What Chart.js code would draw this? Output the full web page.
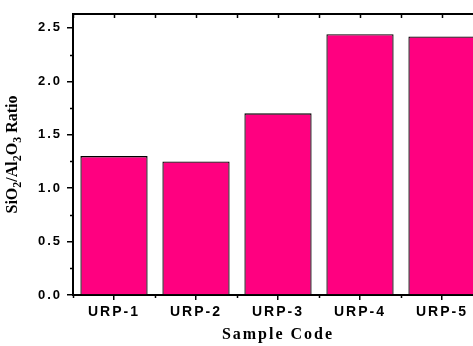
<!DOCTYPE html>
<html>
<head>
<meta charset="utf-8">
<script src="https://cdn.jsdelivr.net/npm/chart.js@4"></script>
<style>
  html, body { margin: 0; padding: 0; overflow: hidden; background: #fff; }
  canvas { display: block; }
</style>
</head>
<body>
<canvas id="bar-chart" width="484" height="346"></canvas>
<script>
const categories = ['URP-1', 'URP-2', 'URP-3', 'URP-4', 'URP-5'];
const ratios = [1.30, 1.25, 1.70, 2.44, 2.42];
const yMax = 2.63;
const yStep = 0.5;

// text spacing gets reset whenever the canvas is resized, so set it each pass
const spacing = {
  id: 'spacing',
  beforeLayout(chart) { chart.ctx.letterSpacing = '2px'; },
  beforeDraw(chart) { chart.ctx.letterSpacing = '2px'; },
};

// frame top line, minor ticks and the y title with subscripts
const frame = {
  id: 'frame',
  afterDraw(chart) {
    const { ctx, chartArea: a, scales: { x, y } } = chart;
    ctx.save();
    ctx.letterSpacing = '0px';
    ctx.strokeStyle = '#000';
    ctx.lineWidth = 2;
    ctx.beginPath();
    ctx.moveTo(a.left - 1, a.top);
    ctx.lineTo(a.right + 1, a.top);
    ctx.moveTo(a.right, a.top);
    ctx.lineTo(a.right, a.bottom);
    ctx.stroke();

    ctx.lineWidth = 1.5;
    ctx.beginPath();
    for (let v = yStep / 2; v < yMax; v += yStep) {
      const py = Math.round(y.getPixelForValue(v)) + 0.5;
      ctx.moveTo(a.left - 3, py);
      ctx.lineTo(a.left, py);
    }
    for (let i = 0; i <= categories.length; i++) {
      const px = Math.round(x.getPixelForValue(i - 0.5)) + 0.5;
      ctx.moveTo(px, a.bottom);
      ctx.lineTo(px, a.bottom + 3);
      ctx.moveTo(px, a.top);
      ctx.lineTo(px, a.top + 4);
    }
    for (let i = 0; i < categories.length; i++) {
      const px = Math.round(x.getPixelForValue(i)) + 0.5;
      ctx.moveTo(px, a.top);
      ctx.lineTo(px, a.top + 4);
    }
    ctx.stroke();

    const parts = [
      ['SiO', 0], ['2', 1], ['/Al', 0], ['2', 1], ['O', 0], ['3', 1], [' Ratio', 0],
    ];
    const big = 'bold 16px "Liberation Serif", "Times New Roman", serif';
    const small = 'bold 12px "Liberation Serif", "Times New Roman", serif';
    let total = 0;
    parts.forEach(([t, s]) => {
      ctx.font = s ? small : big;
      total += ctx.measureText(t).width;
    });
    ctx.translate(17, (a.top + a.bottom) / 2);
    ctx.rotate(-Math.PI / 2);
    ctx.fillStyle = '#000';
    ctx.textBaseline = 'alphabetic';
    ctx.textAlign = 'left';
    let cx = -total / 2;
    parts.forEach(([t, s]) => {
      ctx.font = s ? small : big;
      ctx.fillText(t, cx, s ? 4 : 0);
      cx += ctx.measureText(t).width;
    });
    ctx.restore();
  },
};

const tickFont = { family: '"Liberation Sans", Arial, sans-serif', size: 14, weight: 'bold' };

new Chart(document.getElementById('bar-chart'), {
  type: 'bar',
  data: {
    labels: categories,
    datasets: [{
      label: 'SiO2/Al2O3 Ratio',
      data: ratios,
      backgroundColor: '#FF0080',
      borderColor: '#000',
      borderWidth: 1.3,
      barPercentage: 0.82,
      categoryPercentage: 1,
    }],
  },
  options: {
    responsive: false,
    animation: false,
    layout: {
      padding: { top: 14, right: 1, bottom: 0, left: 0 },
    },
    scales: {
      x: {
        offset: true,
        grid: {
          offset: false,
          drawOnChartArea: false,
          color: '#000',
          lineWidth: 1.5,
          tickLength: 5,
        },
        border: { color: '#000', width: 2 },
        ticks: { color: '#000', font: tickFont, padding: 4, maxRotation: 0 },
        title: {
          display: true,
          text: 'Sample Code',
          color: '#000',
          font: { family: '"Liberation Serif", "Times New Roman", serif', size: 16, weight: 'bold' },
          padding: { top: 0, bottom: 2 },
        },
        afterFit(scale) { scale.height = 51; },
      },
      y: {
        min: 0,
        max: yMax,
        bounds: 'data',
        grid: {
          drawOnChartArea: false,
          color: '#000',
          lineWidth: 1.5,
          tickLength: 6,
        },
        border: { color: '#000', width: 2 },
        ticks: {
          stepSize: yStep,
          includeBounds: false,
          color: '#000',
          font: { family: '"Liberation Sans", Arial, sans-serif', size: 13, weight: 'bold' },
          padding: 5,
          callback: (v) => v.toFixed(1),
        },
        afterFit(scale) { scale.width = 73; },
      },
    },
    plugins: {
      legend: { display: false },
      tooltip: { enabled: false },
    },
  },
  plugins: [spacing, frame],
});
</script>
</body>
</html>
